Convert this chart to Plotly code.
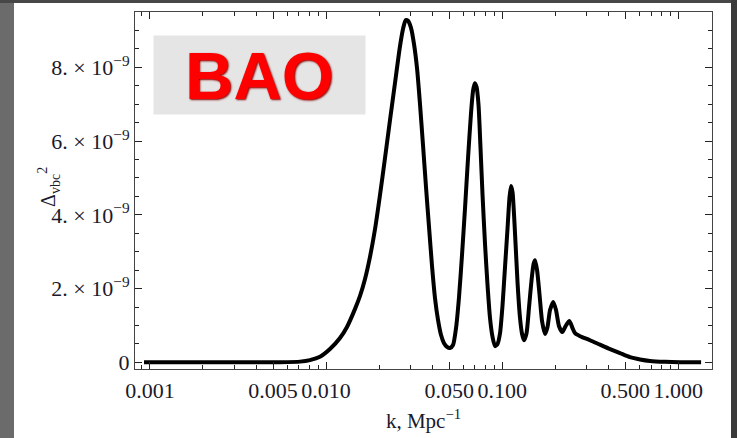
import plotly.graph_objects as go

# wavenumber k [Mpc^-1] and Delta_vbc^2 [units of 1e-9]
k_vals = [0.000925, 0.00208, 0.00394, 0.00547, 0.00711, 0.00810, 0.00923, 0.01052,
          0.01199, 0.01314, 0.01460, 0.01558, 0.01663, 0.01775, 0.01895, 0.02023,
          0.02160, 0.02306, 0.02462, 0.02629, 0.02733, 0.02831, 0.02918, 0.03034,
          0.03156, 0.03282, 0.03413, 0.03550, 0.03692, 0.03840, 0.03994, 0.04153,
          0.04319, 0.04493, 0.04672, 0.04859, 0.05054, 0.05256, 0.05466, 0.05684,
          0.05911, 0.06148, 0.06395, 0.06650, 0.06827, 0.06979, 0.07146, 0.07335,
          0.07529, 0.07729, 0.07985, 0.08250, 0.08525, 0.08808, 0.09102, 0.09404,
          0.09717, 0.1004, 0.1037, 0.1072, 0.1100, 0.1122, 0.1144, 0.1182,
          0.1222, 0.1262, 0.1296, 0.1330, 0.1374, 0.1420, 0.1467, 0.1506,
          0.1536, 0.1577, 0.1629, 0.1683, 0.1750, 0.1808, 0.1868, 0.1950,
          0.2020, 0.2101, 0.2194, 0.2288, 0.2405, 0.2507, 0.2591, 0.2766,
          0.3152, 0.3592, 0.4094, 0.4666, 0.5318, 0.6060, 0.6908, 0.8404,
          1.023, 1.346]
delta_vals = [0.0, 0.0, 0.0, 0.005, 0.02, 0.06, 0.15, 0.36,
              0.66, 0.96, 1.45, 1.80, 2.26, 2.86, 3.61, 4.54,
              5.54, 6.57, 7.58, 8.58, 9.04, 9.28, 9.26, 9.07,
              8.63, 7.98, 7.00, 5.89, 4.75, 3.67, 2.61, 1.74,
              1.15, 0.74, 0.52, 0.42, 0.39, 0.47, 0.93, 1.77,
              2.91, 4.18, 5.54, 6.76, 7.36, 7.57, 7.47, 6.98,
              5.81, 4.54, 3.21, 2.10, 1.20, 0.69, 0.44, 0.50,
              0.79, 1.55, 2.58, 3.64, 4.48, 4.78, 4.62, 3.50,
              2.15, 1.20, 0.77, 0.60, 0.79, 1.50, 2.23, 2.67,
              2.77, 2.50, 1.83, 1.12, 0.77, 0.96, 1.42, 1.64,
              1.42, 0.98, 0.82, 0.98, 1.12, 0.93, 0.79, 0.71,
              0.60, 0.48, 0.36, 0.25, 0.14, 0.08, 0.04, 0.015,
              0.003, 0.0]
scale = 1e-9

x_tick_vals = [0.001, 0.005, 0.01, 0.05, 0.1, 0.5, 1.0]
x_tick_text = ["0.001", "0.005", "0.010", "0.050", "0.100", "0.500", "1.000"]
x_minor_vals = [m * d for d in (0.001, 0.01, 0.1, 1.0) for m in range(2, 10)
                if m != 5 and m * d < 1.6] + [0.0009]
y_tick_vals = [0, 2e-9, 4e-9, 6e-9, 8e-9]
y_tick_text = ["0", "2.\u2005×\u200510<sup>−9</sup>", "4.\u2005×\u200510<sup>−9</sup>",
               "6.\u2005×\u200510<sup>−9</sup>", "8.\u2005×\u200510<sup>−9</sup>"]

serif = "Liberation Serif, Times New Roman, serif"
tick_font = dict(family=serif, size=22, color="#1a1a2a")

fig = go.Figure()
fig.add_trace(go.Scatter(
    x=k_vals, y=[v * scale for v in delta_vals], mode="lines",
    line=dict(color="black", width=4, shape="spline", smoothing=0.6),
    showlegend=False, hoverinfo="skip"))

fig.update_layout(
    width=737, height=438,
    margin=dict(l=135, r=25, t=12, b=69),
    paper_bgcolor="white", plot_bgcolor="white",
    font=dict(family=serif, size=20, color="#1a1a2a"),
    xaxis=dict(
        type="log", range=[-3.085, 0.191], automargin=False,
        tickmode="array", tickvals=x_tick_vals, ticktext=x_tick_text,
        tickfont=tick_font, ticklabelstandoff=2,
        ticks="inside", ticklen=7, tickwidth=1, tickcolor="#222",
        minor=dict(tickvals=x_minor_vals, ticks="inside", ticklen=4,
                   tickcolor="#222", showgrid=False),
        showline=True, linecolor="#444", linewidth=1, mirror="ticks",
        showgrid=False, zeroline=False,
        title=dict(text="k, Mpc<sup>−1</sup>", font=dict(family=serif, size=21),
                   standoff=10),
    ),
    yaxis=dict(
        range=[-0.18e-9, 9.5e-9], automargin=False,
        tickmode="array", tickvals=y_tick_vals, ticktext=y_tick_text,
        tickfont=tick_font,
        ticks="inside", ticklen=7, tickwidth=1, tickcolor="#222",
        minor=dict(dtick=0.5e-9, ticks="inside", ticklen=4, tickcolor="#222",
                   showgrid=False),
        showline=True, linecolor="#444", linewidth=1, mirror="ticks",
        showgrid=False, zeroline=False,
    ),
    annotations=[
        dict(text="<b>BAO</b>", xref="paper", yref="paper",
             x=0.2158, y=0.8235, xanchor="center", yanchor="middle",
             showarrow=False, bgcolor="#e5e5e5", width=211, height=78, borderpad=0,
             font=dict(family="Liberation Sans, Arial, sans-serif", size=67,
                       color="#ff0000", shadow="1px 1px 2px #8a0000")),
        dict(text="Δ<sub>vbc</sub><sup>2</sup>", xref="paper", yref="paper",
             x=-86/577, y=0.51, xanchor="center", yanchor="middle", textangle=-90,
             showarrow=False, font=dict(family=serif, size=20, color="#1a1a2a")),
    ],
    shapes=[
        dict(type="rect", xref="paper", yref="paper", x0=-135/577, x1=-121/577,
             y0=-69/357, y1=1 + 12/357, fillcolor="#6b6b6b", line_width=0, layer="above"),
        dict(type="rect", xref="paper", yref="paper", x0=-135/577, x1=1 + 25/577,
             y0=1 + 9/357, y1=1 + 12/357, fillcolor="#474747", line_width=0, layer="above"),
        dict(type="rect", xref="paper", yref="paper", x0=1 + 19/577, x1=1 + 25/577,
             y0=-69/357, y1=1 + 12/357, fillcolor="#3a3a3a", line_width=0, layer="above"),
    ],
)

fig.write_html("out.html", config={"displayModeBar": False},
               post_script="document.body.style.margin='0px';")
